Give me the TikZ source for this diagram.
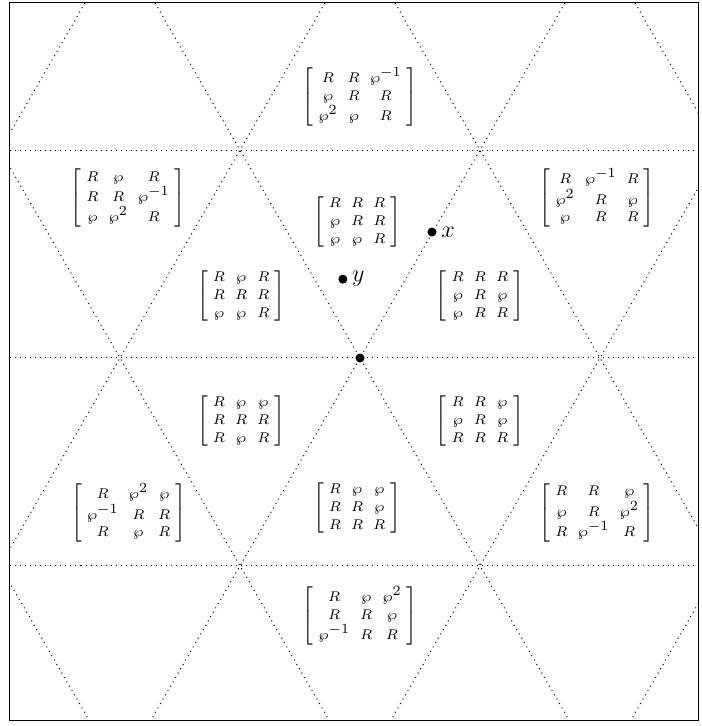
\documentclass[tikz,border=0pt]{standalone}
\usepackage{amsmath}
\usepackage{tikz}
\DeclareMathSizes{7}{7}{7}{7}
\tikzset{
  latline/.style = {dotted, line width=0.5pt},
  mat/.style     = {font=\scriptsize, inner sep=0pt},
  pt/.style      = {circle, fill=black, inner sep=0pt, minimum size=4.5pt},
  lab/.style     = {right=1pt, inner sep=1pt, font=\large}
}
\newcommand{\mtx}[1]{$\setlength{\arraycolsep}{2.5pt}\renewcommand{\arraystretch}{1.1}%
  \left[\begin{array}{ccc}#1\end{array}\right]$}

\begin{document}
\begin{tikzpicture}

% side of a triangle and its height
\def\s{4.2}
\def\h{3.6373}

% page and frame
\useasboundingbox (-6.3,-6.44) rectangle (5.968,6.265);
\draw[line width=0.5pt] (-6.125,-6.335) rectangle (5.915,6.213);

% ── Triangular lattice ─────────────────────────────────────────────────────
\begin{scope}
  \clip (-6.125,-6.335) rectangle (5.915,6.213);
  \foreach \k in {-1,0,1}
    \draw[latline] (-7,{\k*\h}) -- (7,{\k*\h});
  \foreach \k in {-4,...,4} {
    \draw[latline] ({\k*\s-4.33},-7.5) -- ({\k*\s+4.33},7.5);
    \draw[latline] ({\k*\s+4.33},-7.5) -- ({\k*\s-4.33},7.5);
  }
\end{scope}

% ── Matrices ───────────────────────────────────────────────────────────────
\node[mat] (m1)  at (0,4.568)      {\mtx{R & R & \wp^{-1}\\ \wp & R & R\\ \wp^2 & \wp & R}};
\node[mat] (m2)  at (-4.06,2.80)   {\mtx{R & \wp & R\\ R & R & \wp^{-1}\\ \wp & \wp^2 & R}};
\node[mat] (m3)  at (4.15,2.80)    {\mtx{R & \wp^{-1} & R\\ \wp^2 & R & \wp\\ \wp & R & R}};
\node[mat] (m4)  at (-0.05,2.38)   {\mtx{R & R & R\\ \wp & R & R\\ \wp & \wp & R}};
\node[mat] (m5)  at (-2.08,1.085)  {\mtx{R & \wp & R\\ R & R & R\\ \wp & \wp & R}};
\node[mat] (m6)  at (2.10,1.085)   {\mtx{R & R & R\\ \wp & R & \wp\\ \wp & R & R}};
\node[mat] (m7)  at (-2.08,-1.10)  {\mtx{R & \wp & \wp\\ R & R & R\\ R & \wp & R}};
\node[mat] (m8)  at (2.10,-1.10)   {\mtx{R & R & \wp\\ \wp & R & \wp\\ R & R & R}};
\node[mat] (m9)  at (-4.05,-2.71)  {\mtx{R & \wp^2 & \wp\\ \wp^{-1} & R & R\\ R & \wp & R}};
\node[mat] (m10) at (-0.05,-2.625) {\mtx{R & \wp & \wp\\ R & R & \wp\\ R & R & R}};
\node[mat] (m11) at (4.15,-2.71)   {\mtx{R & R & \wp\\ \wp & R & \wp^2\\ R & \wp^{-1} & R}};
\node[mat] (m12) at (0,-4.515)     {\mtx{R & \wp & \wp^2\\ R & R & \wp\\ \wp^{-1} & R & R}};

% ── Points ─────────────────────────────────────────────────────────────────
\node[pt] (o) at (0,0) {};
\node[pt] (px) at (1.26,2.205) {};
\node[lab] at (px.east) {$x$};
\node[pt] (py) at (-0.30,1.38) {};
\node[lab] at (py.east) {$y$};

\end{tikzpicture}
\end{document}
